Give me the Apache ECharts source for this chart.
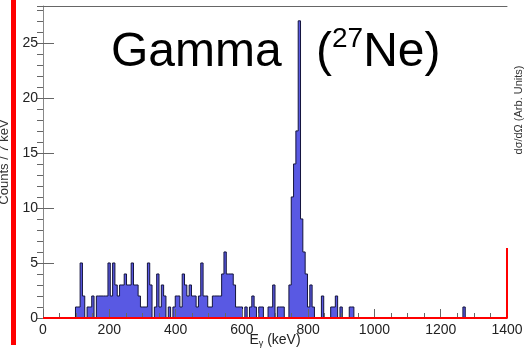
<!DOCTYPE html>
<html>
<head>
<meta charset="utf-8">
<script src="https://cdn.jsdelivr.net/npm/echarts@6/dist/echarts.min.js"></script>
<style>
  html, body { margin: 0; padding: 0; background: #fff; }
  #chart { width: 529px; height: 354px; }
</style>
</head>
<body>
<div id="chart"></div>
<script>
// histogram: 7 keV bins from 0 to 1400 keV (200 bins)
const binWidth = 7;
const counts = [
  0, 0, 0, 0, 0, 0, 0, 0, 0, 0, 0, 0, 0, 0, 1, 1, 5, 2, 0, 1,
  1, 2, 0, 2, 2, 2, 2, 2, 5, 2, 5, 3, 2, 3, 3, 4, 3, 3, 5, 3,
  3, 2, 1, 1, 1, 5, 3, 0, 1, 4, 1, 3, 2, 0, 1, 0, 1, 2, 2, 1,
  4, 3, 2, 3, 2, 2, 1, 2, 5, 2, 2, 1, 1, 2, 2, 2, 2, 4, 6, 4,
  4, 4, 3, 1, 1, 1, 0, 1, 0, 1, 2, 1, 0, 1, 1, 0, 0, 1, 1, 3,
  0, 1, 1, 1, 0, 0, 3, 11, 14, 17, 27, 9, 6, 4, 1, 3, 1, 0, 0, 0,
  2, 0, 0, 0, 1, 1, 2, 0, 1, 0, 0, 0, 1, 1, 0, 0, 0, 0, 0, 0,
  0, 0, 0, 0, 0, 0, 0, 0, 0, 0, 0, 0, 0, 0, 0, 0, 0, 0, 0, 0,
  0, 0, 0, 0, 0, 0, 0, 0, 0, 0, 0, 0, 0, 0, 0, 0, 0, 0, 0, 0,
  0, 1, 0, 0, 0, 0, 0, 0, 0, 0, 0, 0, 0, 0, 0, 0, 0, 0, 0, 0
];

// red dσ/dΩ curve (flat at 0, rising at the end)
const xsecE = [0, 1400, 1400];
const xsecV = [0, 0, 6.35];

const xTicks = [0, 200, 400, 600, 800, 1000, 1200, 1400];
const yTicks = [0, 5, 10, 15, 20, 25];

const histData = counts.map((c, i) => [i * binWidth, c]);
histData.push([counts.length * binWidth, counts[counts.length - 1]]);

const font = "'Liberation Sans', Arial, sans-serif";
const tickGray = "#666";

const myChart = echarts.init(document.getElementById("chart"));
myChart.setOption({
  animation: false,
  title: [
    {
      text: "Gamma",
      left: 111,
      top: 29,
      padding: 0,
      textStyle: { fontFamily: font, fontSize: 48, fontWeight: "normal", color: "#000" }
    },
    {
      text: "{p|(}{s|27}{p|Ne)}",
      left: 316,
      top: 25,
      padding: 0,
      textStyle: {
        fontWeight: "normal",
        rich: {
          p: { fontFamily: font, fontSize: 48, fontWeight: "normal", lineHeight: 56, color: "#000" },
          s: { fontFamily: font, fontSize: 28, fontWeight: "normal", lineHeight: 42, verticalAlign: "top", color: "#000" }
        }
      }
    }
  ],
  grid: { left: 43, right: 22, top: 6, bottom: 36, outerBoundsMode: "none" },
  xAxis: [
    {
      type: "value",
      min: 0,
      max: 1400,
      interval: 200,
      position: "bottom",
      z: 3,
      splitLine: { show: false },
      axisLine: { show: true, lineStyle: { color: "#888" } },
      axisTick: { inside: true, length: 9, lineStyle: { color: tickGray } },
      axisLabel: {
        fontFamily: font, fontSize: 14, color: "#222", margin: 5,
        formatter: v => (xTicks.includes(v) ? String(v) : "")
      },
      name: "E{sub|γ} (keV)",
      nameLocation: "middle",
      nameGap: 14,
      nameMoveOverlap: false,
      nameTextStyle: {
        fontFamily: font, fontSize: 14, color: "#222", lineHeight: 16,
        rich: { sub: { fontFamily: font, fontSize: 9, color: "#222", lineHeight: 8, verticalAlign: "bottom" } }
      }
    },
    {
      type: "value",
      min: 0,
      max: 1400,
      interval: 50,
      position: "bottom",
      z: 3,
      splitLine: { show: false },
      axisLine: { show: false },
      axisTick: { inside: true, length: 5, lineStyle: { color: tickGray } },
      axisLabel: { show: false }
    },
    {
      type: "value",
      min: 0,
      max: 1400,
      position: "top",
      splitLine: { show: false },
      axisLine: { show: true, lineStyle: { color: "#666" } },
      axisTick: { show: false },
      axisLabel: { show: false }
    }
  ],
  yAxis: [
    {
      type: "value",
      min: 0,
      max: 28.35,
      interval: 5,
      splitLine: { show: false },
      axisLine: { show: true, lineStyle: { color: "#888" } },
      axisTick: { inside: true, length: 11, lineStyle: { color: tickGray } },
      axisLabel: {
        fontFamily: font, fontSize: 14, color: "#222", margin: 5, showMaxLabel: false,
        formatter: v => (yTicks.includes(v) ? String(v) : "")
      },
      name: "Counts / 7 keV",
      nameLocation: "middle",
      nameGap: 32,
      nameMoveOverlap: false,
      nameTextStyle: { fontFamily: font, fontSize: 13, color: "#333" }
    },
    {
      type: "value",
      min: 0,
      max: 28.35,
      interval: 1,
      splitLine: { show: false },
      axisLine: { show: false },
      axisTick: { inside: true, length: 6, lineStyle: { color: tickGray } },
      axisLabel: { show: false }
    }
  ],
  series: [
    {
      type: "line",
      xAxisIndex: 0,
      yAxisIndex: 0,
      step: "end",
      data: histData,
      showSymbol: false,
      z: 2,
      lineStyle: { color: "#14143c", width: 1 },
      areaStyle: { color: "#5959e3", opacity: 1 }
    },
    {
      type: "line",
      xAxisIndex: 0,
      yAxisIndex: 0,
      data: xsecE.map((e, i) => [e, xsecV[i]]),
      showSymbol: false,
      z: 4,
      lineStyle: { color: "#ff0000", width: 2 }
    }
  ],
  graphic: [
    {
      type: "rect",
      shape: { x: 11, y: 0, width: 5, height: 345 },
      style: { fill: "#ff0000" },
      z: 10
    },
    {
      type: "text",
      x: 519,
      y: 110,
      rotation: Math.PI / 2,
      style: {
        text: "dσ/dΩ (Arb. Units)",
        fontFamily: font,
        fontSize: 11,
        fill: "#333",
        align: "center",
        verticalAlign: "middle"
      }
    }
  ]
});
</script>
</body>
</html>
